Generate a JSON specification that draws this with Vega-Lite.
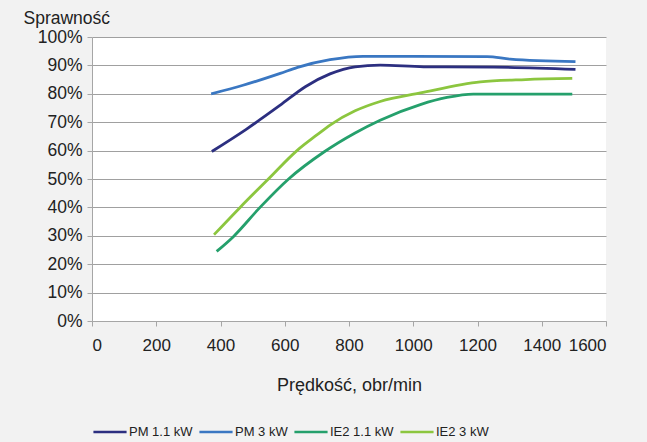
{
  "$schema": "https://vega.github.io/schema/vega-lite/v6.json",
  "autosize": "none",
  "width": 514,
  "height": 284,
  "padding": {"left": 92, "top": 37, "right": 41, "bottom": 121},
  "background": "#f2f2f2",
  "config": {
    "view": {"fill": "#ffffff", "stroke": null},
    "font": "Liberation Sans"
  },
  "data": {
    "values": [
      {"s": "PM 1.1 kW", "rpm": 373, "eff": 0.597},
      {"s": "PM 1.1 kW", "rpm": 480, "eff": 0.675},
      {"s": "PM 1.1 kW", "rpm": 586, "eff": 0.76},
      {"s": "PM 1.1 kW", "rpm": 664, "eff": 0.825},
      {"s": "PM 1.1 kW", "rpm": 741, "eff": 0.87},
      {"s": "PM 1.1 kW", "rpm": 819, "eff": 0.895},
      {"s": "PM 1.1 kW", "rpm": 897, "eff": 0.901},
      {"s": "PM 1.1 kW", "rpm": 1032, "eff": 0.895},
      {"s": "PM 1.1 kW", "rpm": 1250, "eff": 0.894},
      {"s": "PM 1.1 kW", "rpm": 1505, "eff": 0.886},
      {"s": "PM 3 kW", "rpm": 371, "eff": 0.80},
      {"s": "PM 3 kW", "rpm": 470, "eff": 0.83},
      {"s": "PM 3 kW", "rpm": 586, "eff": 0.872},
      {"s": "PM 3 kW", "rpm": 640, "eff": 0.893},
      {"s": "PM 3 kW", "rpm": 741, "eff": 0.92},
      {"s": "PM 3 kW", "rpm": 844, "eff": 0.932},
      {"s": "PM 3 kW", "rpm": 1000, "eff": 0.932},
      {"s": "PM 3 kW", "rpm": 1230, "eff": 0.931},
      {"s": "PM 3 kW", "rpm": 1302, "eff": 0.922},
      {"s": "PM 3 kW", "rpm": 1505, "eff": 0.913},
      {"s": "IE2 1.1 kW", "rpm": 388, "eff": 0.245},
      {"s": "IE2 1.1 kW", "rpm": 440, "eff": 0.297},
      {"s": "IE2 1.1 kW", "rpm": 523, "eff": 0.40},
      {"s": "IE2 1.1 kW", "rpm": 612, "eff": 0.50},
      {"s": "IE2 1.1 kW", "rpm": 722, "eff": 0.595},
      {"s": "IE2 1.1 kW", "rpm": 819, "eff": 0.662},
      {"s": "IE2 1.1 kW", "rpm": 897, "eff": 0.707},
      {"s": "IE2 1.1 kW", "rpm": 1022, "eff": 0.762},
      {"s": "IE2 1.1 kW", "rpm": 1105, "eff": 0.787},
      {"s": "IE2 1.1 kW", "rpm": 1187, "eff": 0.799},
      {"s": "IE2 1.1 kW", "rpm": 1495, "eff": 0.799},
      {"s": "IE2 3 kW", "rpm": 380, "eff": 0.304},
      {"s": "IE2 3 kW", "rpm": 461, "eff": 0.40},
      {"s": "IE2 3 kW", "rpm": 549, "eff": 0.50},
      {"s": "IE2 3 kW", "rpm": 638, "eff": 0.60},
      {"s": "IE2 3 kW", "rpm": 700, "eff": 0.655},
      {"s": "IE2 3 kW", "rpm": 741, "eff": 0.69},
      {"s": "IE2 3 kW", "rpm": 819, "eff": 0.74},
      {"s": "IE2 3 kW", "rpm": 897, "eff": 0.773},
      {"s": "IE2 3 kW", "rpm": 1022, "eff": 0.803},
      {"s": "IE2 3 kW", "rpm": 1209, "eff": 0.842},
      {"s": "IE2 3 kW", "rpm": 1350, "eff": 0.850},
      {"s": "IE2 3 kW", "rpm": 1495, "eff": 0.854}
    ]
  },
  "mark": {"type": "line", "strokeWidth": 2.8, "interpolate": "monotone"},
  "encoding": {
    "x": {
      "field": "rpm", "type": "quantitative",
      "scale": {"domain": [0, 1600], "nice": false},
      "axis": {
        "values": [0, 200, 400, 600, 800, 1000, 1200, 1400, 1600],
        "format": "d",
        "title": "Prędkość, obr/min",
        "grid": false,
        "domainColor": "#a6a6a6", "tickColor": "#a6a6a6", "tickSize": 5,
        "labelFontSize": 17, "labelColor": "#222222", "labelPadding": 11,
        "titleFontSize": 18, "titleFontWeight": "normal", "titleColor": "#222222",
        "titleY": 69, "titleBaseline": "alphabetic"
      }
    },
    "y": {
      "field": "eff", "type": "quantitative",
      "scale": {"domain": [0, 1], "nice": false},
      "axis": {
        "values": [0, 0.1, 0.2, 0.3, 0.4, 0.5, 0.6, 0.7, 0.8, 0.9, 1],
        "format": ".0%",
        "title": "Sprawność",
        "grid": true, "gridColor": "#a0a0a0", "gridWidth": 1.2,
        "domainColor": "#a6a6a6", "tickColor": "#a6a6a6", "tickSize": 5,
        "labelFontSize": 17.5, "labelColor": "#222222", "labelPadding": 5,
        "titleFontSize": 17.5, "titleFontWeight": "normal", "titleColor": "#222222",
        "titleAngle": 0, "titleAlign": "left", "titleBaseline": "alphabetic",
        "titleX": -69, "titleY": -14
      }
    },
    "color": {
      "field": "s", "type": "nominal",
      "scale": {
        "domain": ["PM 1.1 kW", "PM 3 kW", "IE2 1.1 kW", "IE2 3 kW"],
        "range": ["#2c2f80", "#3a77c2", "#25a06c", "#8cc63f"]
      },
      "legend": {
        "title": null,
        "orient": "none", "direction": "horizontal",
        "legendX": 0, "legendY": 377,
        "symbolType": "stroke", "symbolSize": 1100, "symbolStrokeWidth": 2.5,
        "labelFontSize": 13, "labelColor": "#222222", "labelOffset": 1,
        "columnPadding": 1
      }
    }
  }
}
